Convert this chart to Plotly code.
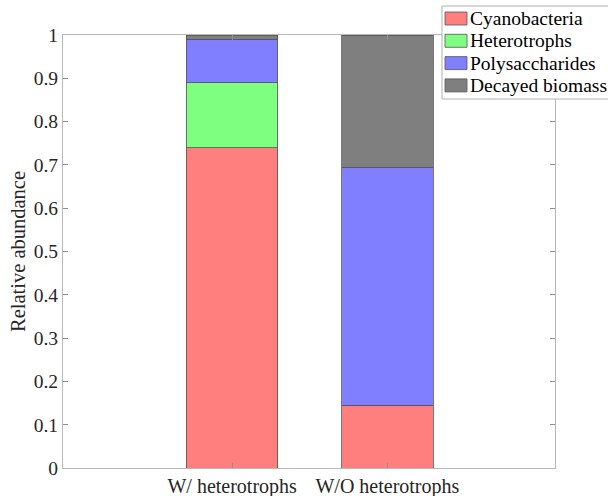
import plotly.graph_objects as go

categories = ["W/ heterotrophs", "W/O heterotrophs"]
positions = [2, 3]
series_names = ["Cyanobacteria", "Heterotrophs", "Polysaccharides", "Decayed biomass"]
cyanobacteria = [0.74, 0.145]
heterotrophs = [0.15, 0.0]
polysaccharides = [0.10, 0.55]
decayed = [0.01, 0.305]
colors = ["#FF7F7F", "#7FFF7F", "#7F7FFF", "#7F7F7F"]
y_ticks = [0, 0.1, 0.2, 0.3, 0.4, 0.5, 0.6, 0.7, 0.8, 0.9, 1]
y_tick_labels = ["0", "0.1", "0.2", "0.3", "0.4", "0.5", "0.6", "0.7", "0.8", "0.9", "1"]

# plot area at x 63..555, y 35..468 in the 608x496 window (body margin removed below)
W, H = 608, 496
ML, MR, MT, MB = 63, 53, 35, 28
PW, PH = W - ML - MR, H - MT - MB

def px(xw):  # window px -> paper x
    return (xw - ML) / PW

def py(yw):  # window px -> paper y
    return ((MT + PH) - yw) / PH

font_family = "Liberation Serif, Times New Roman, serif"

fig = go.Figure()
for name, vals, col in zip(series_names, [cyanobacteria, heterotrophs, polysaccharides, decayed], colors):
    fig.add_trace(go.Bar(
        x=positions, y=vals, name=name, width=0.59,
        marker=dict(color=col, line=dict(color="#555555", width=0.8)),
        showlegend=False,
    ))

# legend (MATLAB style box partially outside the figure)
shapes = [dict(type="rect", xref="paper", yref="paper",
               x0=px(442), x1=px(640), y0=py(99), y1=py(6),
               fillcolor="white", line=dict(color="#b0b0b0", width=1), layer="above")]
annotations = []
for i, (name, col) in enumerate(zip(series_names, colors)):
    top = 12 + 22.3 * i
    shapes.append(dict(type="rect", xref="paper", yref="paper",
                       x0=px(445), x1=px(467), y0=py(top + 13), y1=py(top),
                       fillcolor=col, line=dict(color="#555555", width=0.8), layer="above"))
    annotations.append(dict(xref="paper", yref="paper", x=px(467.5), y=py(top + 6.5),
                            xanchor="left", yanchor="middle", showarrow=False,
                            text=name, font=dict(family=font_family, size=19.5, color="#000000")))

fig.update_layout(
    barmode="stack",
    width=W, height=H,
    margin=dict(l=ML, r=MR, t=MT, b=MB, autoexpand=False),
    paper_bgcolor="white", plot_bgcolor="white",
    font=dict(family=font_family, size=20, color="#262626"),
    showlegend=False,
    shapes=shapes,
    annotations=annotations,
    xaxis=dict(
        range=[0.91, 4.08],
        tickmode="array", tickvals=positions, ticktext=categories,
        ticks="inside", ticklen=5, tickcolor="#909090",
        showline=True, linecolor="#b8b8b8", linewidth=1, mirror="ticks",
        showgrid=False, zeroline=False,
        tickfont=dict(family=font_family, size=20, color="#262626"),
    ),
    yaxis=dict(
        range=[0, 1],
        tickmode="array", tickvals=y_ticks, ticktext=y_tick_labels,
        ticks="inside", ticklen=5, tickcolor="#909090",
        showline=True, linecolor="#b8b8b8", linewidth=1, mirror="ticks",
        showgrid=False, zeroline=False,
        title=dict(text="Relative abundance", font=dict(family=font_family, size=20.5, color="#262626"), standoff=2),
        tickfont=dict(family=font_family, size=19.5, color="#262626"),
    ),
)

fig.write_html(
    "out.html",
    config={"displayModeBar": False},
    post_script="document.body.style.margin='0';document.body.style.overflow='hidden';"
                "document.documentElement.style.overflow='hidden';",
)
